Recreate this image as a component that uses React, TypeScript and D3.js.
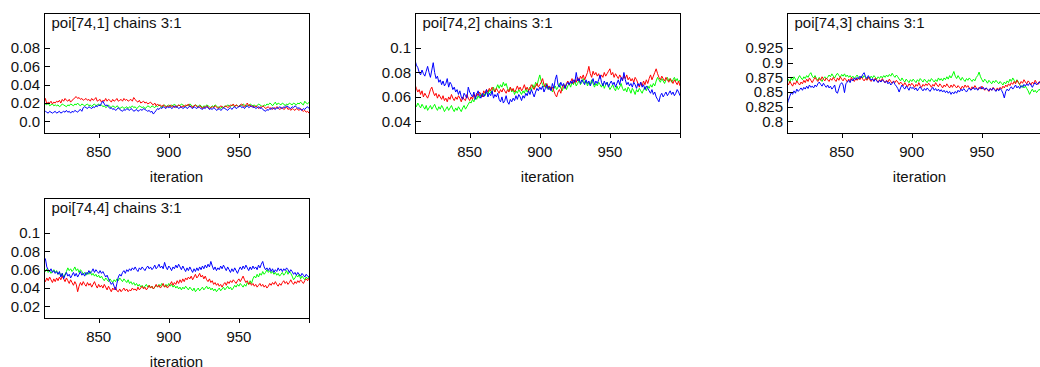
import React from "react";
import * as d3 from "d3";

// ---------- data ----------
const iterations = d3.range(811, 1001);
const xTickValues = [850, 900, 950, 1000];
const xTickLabels = ["850", "900", "950", ""];

const p1Title = "poi[74,1] chains 3:1";
const p1TickValues = [0, 0.02, 0.04, 0.06, 0.08];
const p1TickLabels = ["0.0", "0.02", "0.04", "0.06", "0.08"];
const p1Blue = [
  .012, .011, .010, .009, .011, .010, .009, .010, .011, .009,
  .010, .011, .009, .010, .011, .010, .012, .010, .011, .009,
  .011, .010, .012, .011, .010, .012, .013, .011, .015, .016,
  .015, .014, .016, .015, .014, .016, .015, .017, .016, .018,
  .017, .020, .022, .019, .017, .018, .016, .014, .015, .013,
  .014, .012, .013, .015, .013, .012, .011, .013, .012, .014,
  .013, .012, .014, .013, .011, .012, .013, .011, .012, .013,
  .012, .014, .013, .012, .011, .012, .010, .011, .008, .010,
  .012, .014, .013, .015, .014, .016, .015, .014, .016, .015,
  .016, .014, .015, .017, .015, .016, .014, .015, .016, .014,
  .015, .016, .014, .015, .017, .015, .014, .016, .015, .014,
  .016, .015, .014, .013, .015, .014, .016, .015, .013, .014,
  .013, .015, .014, .012, .013, .014, .012, .013, .015, .014,
  .013, .012, .014, .015, .013, .015, .016, .014, .015, .016,
  .017, .015, .016, .014, .016, .017, .015, .016, .017, .015,
  .016, .014, .015, .016, .014, .015, .013, .012, .011, .013,
  .012, .014, .013, .015, .014, .013, .015, .014, .016, .015,
  .014, .016, .015, .017, .016, .015, .014, .016, .015, .017,
  .016, .014, .015, .013, .012, .014, .013, .015, .016, .014,
];
const p1Red = [
  .020, .025, .019, .021, .020, .022, .019, .021, .020, .022,
  .021, .023, .020, .024, .022, .025, .023, .022, .024, .021,
  .023, .024, .026, .027, .025, .026, .024, .025, .023, .024,
  .025, .023, .024, .022, .025, .023, .024, .026, .022, .023,
  .024, .021, .023, .022, .025, .022, .024, .023, .021, .024,
  .022, .023, .025, .022, .023, .024, .022, .025, .023, .024,
  .022, .023, .024, .022, .026, .024, .022, .021, .023, .020,
  .021, .022, .020, .021, .019, .020, .021, .019, .018, .020,
  .017, .019, .017, .018, .016, .018, .017, .015, .017, .016,
  .018, .016, .017, .015, .017, .016, .018, .017, .015, .017,
  .016, .018, .017, .019, .016, .017, .015, .017, .018, .016,
  .015, .017, .016, .014, .016, .015, .017, .016, .014, .015,
  .016, .015, .017, .016, .014, .015, .017, .016, .015, .016,
  .017, .015, .016, .018, .017, .019, .016, .018, .017, .016,
  .018, .019, .017, .016, .018, .020, .017, .018, .016, .017,
  .015, .017, .016, .014, .016, .015, .017, .016, .014, .015,
  .016, .014, .015, .013, .015, .014, .016, .015, .013, .014,
  .015, .013, .014, .016, .013, .014, .012, .014, .013, .012,
  .014, .013, .012, .014, .012, .011, .012, .010, .011, .009,
];
const p1Green = [
  .020, .019, .018, .020, .017, .018, .019, .017, .018, .017,
  .018, .016, .017, .019, .018, .017, .016, .018, .017, .019,
  .018, .017, .019, .018, .020, .018, .017, .019, .018, .017,
  .018, .019, .017, .018, .016, .018, .019, .017, .018, .019,
  .017, .018, .016, .017, .015, .016, .018, .016, .015, .017,
  .016, .015, .017, .016, .014, .015, .016, .014, .015, .016,
  .014, .016, .015, .017, .015, .016, .014, .015, .017, .016,
  .015, .016, .014, .015, .017, .016, .015, .017, .016, .015,
  .017, .016, .018, .017, .015, .017, .018, .016, .017, .018,
  .016, .018, .017, .019, .017, .016, .018, .017, .019, .018,
  .017, .016, .018, .017, .019, .018, .016, .017, .018, .017,
  .016, .018, .017, .015, .017, .016, .018, .017, .016, .015,
  .017, .016, .018, .017, .015, .016, .014, .016, .015, .017,
  .016, .018, .017, .016, .018, .017, .016, .018, .017, .016,
  .018, .017, .019, .018, .016, .018, .017, .019, .018, .017,
  .018, .016, .017, .019, .018, .017, .016, .018, .017, .019,
  .018, .020, .019, .017, .019, .021, .018, .020, .019, .018,
  .020, .019, .017, .019, .018, .020, .019, .018, .020, .019,
  .018, .020, .019, .021, .019, .018, .022, .020, .019, .021,
];

const p2Title = "poi[74,2] chains 3:1";
const p2TickValues = [0.04, 0.06, 0.08, 0.1];
const p2TickLabels = ["0.04", "0.06", "0.08", "0.1"];
const p2Blue = [
  .090, .086, .084, .080, .078, .082, .079, .077, .081, .085,
  .080, .076, .082, .088, .080, .075, .077, .072, .074, .070,
  .073, .069, .071, .075, .068, .072, .070, .066, .068, .064,
  .066, .062, .065, .060, .058, .063, .061, .059, .068, .064,
  .062, .060, .064, .058, .062, .065, .061, .059, .063, .060,
  .062, .066, .060, .063, .061, .065, .059, .062, .060, .063,
  .058, .056, .060, .055, .057, .061, .056, .054, .058, .056,
  .059, .057, .061, .058, .062, .060, .057, .061, .059, .063,
  .061, .065, .062, .066, .063, .060, .064, .067, .065, .068,
  .066, .069, .064, .067, .070, .066, .068, .065, .071, .067,
  .074, .078, .070, .068, .072, .069, .071, .067, .070, .072,
  .070, .073, .071, .074, .072, .080, .073, .075, .071, .074,
  .072, .070, .074, .071, .073, .069, .072, .075, .070, .073,
  .071, .074, .078, .072, .069, .073, .070, .072, .068, .071,
  .073, .070, .072, .068, .071, .074, .070, .076, .073, .080,
  .074, .070, .072, .069, .071, .068, .072, .070, .067, .071,
  .069, .072, .068, .070, .066, .069, .067, .065, .063, .066,
  .062, .064, .060, .058, .056, .061, .063, .060, .062, .064,
  .061, .063, .065, .062, .064, .061, .063, .066, .064, .061,
];
const p2Red = [
  .070, .067, .064, .066, .062, .065, .060, .063, .061, .059,
  .062, .066, .068, .064, .061, .063, .059, .062, .060, .058,
  .061, .057, .059, .056, .060, .058, .062, .059, .057, .060,
  .058, .061, .059, .056, .060, .058, .057, .062, .059, .057,
  .060, .058, .062, .060, .063, .061, .064, .062, .060, .065,
  .063, .066, .064, .067, .065, .068, .066, .064, .067, .065,
  .063, .066, .064, .067, .065, .063, .066, .064, .068, .065,
  .067, .064, .066, .069, .066, .068, .065, .067, .070, .066,
  .068, .065, .067, .070, .068, .066, .069, .071, .068, .070,
  .072, .075, .070, .068, .071, .067, .069, .066, .068, .065,
  .062, .060, .064, .066, .063, .068, .070, .067, .071, .073,
  .070, .072, .075, .071, .074, .072, .076, .073, .077, .075,
  .078, .074, .077, .080, .085, .079, .076, .081, .078, .080,
  .077, .079, .075, .078, .076, .080, .077, .079, .081, .083,
  .078, .080, .076, .079, .077, .075, .078, .076, .074, .077,
  .075, .078, .074, .076, .073, .075, .072, .076, .074, .071,
  .068, .072, .069, .073, .070, .074, .071, .075, .078, .074,
  .077, .080, .083, .079, .076, .074, .077, .075, .073, .076,
  .074, .072, .075, .073, .071, .074, .072, .070, .073, .069,
];
const p2Green = [
  .054, .052, .055, .053, .051, .054, .052, .050, .053, .049,
  .051, .053, .050, .052, .054, .051, .049, .052, .050, .053,
  .051, .048, .050, .052, .049, .051, .053, .050, .048, .051,
  .049, .052, .050, .048, .051, .053, .050, .052, .054, .056,
  .055, .058, .056, .060, .058, .061, .059, .062, .060, .063,
  .061, .064, .062, .066, .063, .065, .068, .064, .067, .070,
  .067, .070, .068, .072, .069, .071, .067, .065, .068, .064,
  .066, .062, .065, .063, .066, .064, .062, .065, .063, .067,
  .064, .066, .068, .065, .070, .067, .072, .069, .074, .078,
  .073, .070, .068, .071, .067, .069, .066, .068, .064, .067,
  .069, .066, .068, .071, .067, .065, .068, .070, .066, .069,
  .071, .068, .072, .070, .073, .069, .071, .074, .070, .072,
  .075, .071, .073, .069, .072, .070, .074, .071, .068, .071,
  .069, .072, .070, .068, .071, .067, .070, .072, .069, .066,
  .068, .070, .067, .065, .069, .066, .068, .071, .067, .065,
  .067, .064, .068, .066, .063, .067, .065, .062, .066, .064,
  .067, .065, .063, .066, .068, .065, .069, .067, .070, .068,
  .071, .069, .073, .076, .074, .072, .075, .073, .071, .074,
  .076, .073, .075, .072, .074, .076, .073, .075, .072, .074,
];

const p3Title = "poi[74,3] chains 3:1";
const p3TickValues = [0.8, 0.825, 0.85, 0.875, 0.9, 0.925];
const p3TickLabels = ["0.8", "0.825", "0.85", "0.875", "0.9", "0.925"];
const p3Blue = [
  .828, .836, .843, .849, .846, .852, .848, .855, .851, .854,
  .857, .853, .858, .855, .860, .856, .862, .858, .860, .857,
  .862, .859, .864, .867, .863, .860, .865, .861, .858, .862,
  .857, .860, .855, .858, .862, .850, .848, .856, .863, .866,
  .862, .849, .864, .867, .870, .866, .872, .869, .874, .871,
  .875, .872, .877, .874, .880, .883, .876, .873, .878, .874,
  .870, .873, .868, .872, .869, .866, .870, .867, .871, .868,
  .866, .869, .864, .867, .862, .865, .868, .863, .860, .856,
  .850, .857, .862, .858, .855, .860, .857, .853, .859, .856,
  .858, .854, .857, .852, .856, .859, .855, .852, .856, .853,
  .857, .854, .851, .855, .858, .853, .856, .852, .855, .851,
  .854, .850, .853, .849, .852, .848, .851, .846, .850, .847,
  .851, .848, .853, .850, .855, .852, .856, .853, .850, .854,
  .857, .853, .855, .858, .854, .857, .853, .856, .859, .855,
  .858, .854, .857, .855, .852, .856, .853, .857, .854, .851,
  .855, .852, .856, .853, .848, .840, .851, .855, .852, .856,
  .859, .855, .858, .862, .857, .860, .856, .861, .858, .863,
  .860, .864, .861, .865, .862, .858, .863, .866, .862, .865,
  .867, .863, .866, .862, .865, .868, .864, .867, .863, .866,
];
const p3Red = [
  .866, .862, .868, .864, .860, .866, .863, .869, .865, .862,
  .867, .864, .870, .866, .872, .868, .874, .870, .866, .871,
  .875, .871, .868, .873, .870, .876, .872, .869, .874, .871,
  .868, .873, .870, .875, .871, .868, .874, .870, .876, .872,
  .869, .874, .871, .867, .872, .869, .875, .871, .868, .873,
  .870, .874, .871, .876, .872, .869, .873, .870, .875, .871,
  .868, .872, .869, .874, .870, .867, .871, .868, .873, .869,
  .866, .870, .867, .872, .868, .865, .869, .866, .870, .867,
  .863, .867, .864, .861, .866, .862, .859, .864, .861, .865,
  .862, .858, .863, .860, .866, .861, .858, .863, .860, .864,
  .861, .865, .862, .858, .863, .860, .866, .862, .859, .864,
  .861, .857, .862, .859, .864, .860, .857, .862, .858, .863,
  .860, .857, .861, .858, .855, .860, .857, .862, .858, .861,
  .857, .854, .859, .856, .861, .857, .854, .858, .855, .860,
  .856, .853, .857, .854, .851, .856, .853, .858, .855, .852,
  .857, .854, .858, .855, .860, .857, .862, .859, .864, .861,
  .866, .863, .868, .864, .870, .866, .863, .868, .865, .871,
  .867, .864, .869, .866, .862, .867, .864, .870, .866, .863,
  .868, .865, .870, .866, .863, .868, .865, .869, .866, .864,
];
const p3Green = [
  .868, .872, .866, .874, .870, .876, .872, .868, .874, .878,
  .874, .871, .876, .873, .878, .875, .880, .883, .877, .874,
  .878, .873, .870, .875, .871, .868, .873, .876, .872, .875,
  .879, .876, .881, .877, .874, .879, .882, .878, .875, .880,
  .877, .881, .876, .879, .875, .878, .874, .877, .873, .876,
  .879, .875, .872, .877, .874, .878, .875, .871, .876, .873,
  .877, .874, .878, .875, .872, .876, .873, .877, .874, .878,
  .875, .879, .876, .880, .877, .882, .878, .875, .879, .876,
  .872, .869, .874, .870, .867, .872, .869, .866, .871, .868,
  .872, .869, .866, .871, .868, .873, .870, .867, .872, .869,
  .866, .871, .868, .873, .870, .867, .871, .868, .874, .870,
  .873, .869, .874, .871, .876, .872, .878, .874, .879, .885,
  .877, .873, .878, .874, .870, .875, .871, .868, .873, .870,
  .874, .871, .868, .872, .869, .875, .878, .884, .876, .871,
  .867, .872, .869, .865, .870, .867, .864, .869, .866, .870,
  .867, .864, .868, .865, .862, .867, .864, .869, .866, .872,
  .868, .874, .870, .866, .871, .867, .862, .858, .861, .857,
  .860, .856, .852, .846, .851, .855, .850, .853, .849, .852,
  .855, .851, .854, .850, .853, .851, .855, .852, .850, .853,
];

const p4Title = "poi[74,4] chains 3:1";
const p4TickValues = [0.02, 0.04, 0.06, 0.08, 0.1];
const p4TickLabels = ["0.02", "0.04", "0.06", "0.08", "0.1"];
const p4Blue = [
  .068, .072, .063, .060, .058, .061, .057, .059, .056, .058,
  .055, .058, .052, .056, .050, .054, .057, .053, .055, .051,
  .054, .057, .053, .056, .052, .055, .058, .054, .056, .053,
  .057, .055, .059, .056, .058, .061, .057, .060, .058, .056,
  .059, .056, .058, .055, .052, .054, .050, .047, .044, .046,
  .042, .038, .045, .052, .055, .053, .057, .059, .056, .060,
  .058, .061, .059, .062, .060, .063, .060, .058, .062, .060,
  .063, .061, .059, .062, .064, .061, .063, .060, .062, .065,
  .061, .063, .066, .062, .064, .061, .068, .063, .060, .064,
  .062, .059, .063, .061, .065, .062, .066, .063, .060, .064,
  .061, .058, .062, .059, .063, .060, .057, .061, .058, .062,
  .059, .063, .060, .064, .061, .065, .062, .066, .063, .069,
  .064, .060, .063, .059, .062, .060, .064, .061, .065, .062,
  .059, .063, .060, .057, .061, .058, .062, .059, .056, .060,
  .063, .060, .064, .061, .065, .062, .059, .063, .060, .064,
  .061, .063, .060, .065, .062, .066, .069, .063, .060, .062,
  .059, .062, .058, .061, .057, .060, .058, .062, .059, .061,
  .058, .061, .059, .062, .060, .057, .060, .058, .055, .057,
  .054, .057, .055, .053, .056, .054, .052, .055, .053, .052,
];
const p4Red = [
  .050, .047, .051, .048, .052, .049, .046, .050, .047, .051,
  .048, .052, .049, .053, .050, .047, .051, .048, .045, .049,
  .046, .043, .047, .044, .036, .042, .046, .043, .047, .044,
  .042, .046, .043, .045, .041, .044, .047, .043, .040, .044,
  .041, .043, .040, .044, .041, .038, .042, .039, .036, .040,
  .038, .041, .037, .036, .039, .036, .038, .040, .037, .039,
  .036, .038, .037, .040, .038, .039, .037, .041, .038, .040,
  .042, .039, .041, .038, .040, .043, .040, .042, .039, .041,
  .044, .041, .043, .040, .042, .045, .041, .043, .040, .042,
  .044, .047, .043, .046, .044, .048, .045, .049, .046, .050,
  .047, .051, .049, .052, .050, .053, .049, .052, .055, .051,
  .053, .056, .052, .054, .050, .053, .049, .047, .050, .046,
  .048, .044, .046, .043, .045, .042, .044, .041, .044, .046,
  .043, .047, .045, .048, .046, .049, .047, .045, .048, .050,
  .047, .050, .053, .049, .046, .048, .044, .046, .043, .045,
  .042, .044, .041, .043, .045, .042, .044, .041, .043, .040,
  .042, .045, .043, .046, .044, .047, .044, .042, .045, .043,
  .046, .048, .045, .047, .044, .046, .049, .046, .044, .047,
  .045, .048, .046, .049, .047, .045, .048, .050, .048, .051,
];
const p4Green = [
  .060, .058, .061, .057, .059, .056, .058, .060, .057, .059,
  .055, .057, .053, .056, .052, .055, .058, .062, .059, .061,
  .058, .060, .063, .059, .061, .057, .060, .058, .055, .057,
  .054, .057, .055, .058, .054, .056, .053, .055, .052, .054,
  .051, .053, .050, .048, .051, .049, .047, .050, .048, .046,
  .049, .047, .050, .048, .051, .049, .047, .050, .048, .046,
  .049, .045, .047, .044, .046, .043, .045, .042, .044, .041,
  .043, .040, .042, .044, .041, .043, .040, .042, .039, .041,
  .043, .041, .044, .042, .045, .043, .041, .044, .042, .045,
  .042, .044, .041, .043, .040, .042, .039, .041, .038, .041,
  .039, .042, .040, .038, .041, .039, .037, .040, .036, .038,
  .040, .037, .039, .041, .038, .040, .042, .039, .041, .038,
  .040, .037, .039, .036, .038, .040, .037, .039, .041, .038,
  .040, .042, .039, .041, .038, .040, .043, .041, .044, .042,
  .045, .043, .041, .044, .042, .046, .044, .048, .045, .050,
  .053, .051, .055, .052, .056, .054, .058, .055, .057, .060,
  .057, .059, .056, .058, .055, .057, .054, .056, .053, .055,
  .057, .054, .056, .059, .055, .058, .056, .053, .049, .051,
  .054, .052, .055, .050, .053, .051, .049, .052, .050, .053,
];

// ---------- layout / style ----------
const FONT = "'Liberation Sans', Arial, Helvetica, sans-serif";
const TEXT = "#111";
const FRAME_W = 265;
const FRAME_H = 120;
const TOP_TICK_Y = 35;
const BOTTOM_TICK_Y = 108.4;
const CHAIN_COLORS = ["#00ff00", "#ff0000", "#0000ff"]; // drawn chain 3 -> 1

const panels = [
  { title: p1Title, left: 44, top: 13, ticks: p1TickValues, labels: p1TickLabels, chains: [p1Green, p1Red, p1Blue] },
  { title: p2Title, left: 415, top: 13, ticks: p2TickValues, labels: p2TickLabels, chains: [p2Green, p2Red, p2Blue] },
  { title: p3Title, left: 787, top: 13, ticks: p3TickValues, labels: p3TickLabels, chains: [p3Green, p3Red, p3Blue] },
  { title: p4Title, left: 44, top: 198, ticks: p4TickValues, labels: p4TickLabels, chains: [p4Green, p4Red, p4Blue] },
];

function Panel({ p, idx }: { p: any; idx: number }) {
  const x = d3.scaleLinear().domain([811, 1000]).range([p.left, p.left + FRAME_W]);
  const tmin = p.ticks[0];
  const tmax = p.ticks[p.ticks.length - 1];
  const y = d3
    .scaleLinear()
    .domain([tmin, tmax])
    .range([p.top + BOTTOM_TICK_Y, p.top + TOP_TICK_Y]);
  const bottom = p.top + FRAME_H;
  const line = d3
    .line<number>()
    .x((_, i) => x(iterations[i]))
    .y((d) => y(d));
  const clipId = `clip-${idx}`;
  return (
    <g>
      <defs>
        <clipPath id={clipId}>
          <rect x={p.left} y={p.top} width={FRAME_W} height={FRAME_H} />
        </clipPath>
      </defs>
      <g clipPath={`url(#${clipId})`}>
        {p.chains.map((c: number[], i: number) => (
          <path key={i} d={line(c) || ""} fill="none" stroke={CHAIN_COLORS[i]} strokeWidth={1} />
        ))}
      </g>
      <rect
        x={p.left + 0.5}
        y={p.top + 0.5}
        width={FRAME_W}
        height={FRAME_H}
        fill="none"
        stroke="#000"
        strokeWidth={1}
        shapeRendering="crispEdges"
      />
      <text x={p.left + 7.5} y={p.top + 15} fontFamily={FONT} fontSize={15} fill={TEXT}>
        {p.title}
      </text>
      {p.ticks.map((t: number, i: number) => (
        <g key={"y" + i}>
          <line
            x1={p.left}
            x2={p.left + 6}
            y1={Math.round(y(t)) + 0.5}
            y2={Math.round(y(t)) + 0.5}
            stroke="#000"
            shapeRendering="crispEdges"
          />
          <text
            x={p.left - 4}
            y={y(t)}
            dy="0.36em"
            textAnchor="end"
            fontFamily={FONT}
            fontSize={15}
            fill={TEXT}
          >
            {p.labels[i]}
          </text>
        </g>
      ))}
      {xTickValues.map((t, i) => (
        <g key={"x" + i}>
          <line
            x1={Math.round(x(t)) + 0.5}
            x2={Math.round(x(t)) + 0.5}
            y1={bottom}
            y2={bottom + 5}
            stroke="#000"
            shapeRendering="crispEdges"
          />
          <text x={x(t)} y={bottom + 24} textAnchor="middle" fontFamily={FONT} fontSize={15} fill={TEXT}>
            {xTickLabels[i]}
          </text>
        </g>
      ))}
      <text
        x={p.left + FRAME_W / 2}
        y={bottom + 49}
        textAnchor="middle"
        fontFamily={FONT}
        fontSize={15}
        fill={TEXT}
      >
        iteration
      </text>
    </g>
  );
}

export default function App() {
  return (
    <svg
      width={1040}
      height={367}
      style={{ position: "absolute", left: 0, top: 0, background: "#fff" }}
    >
      <rect x={0} y={0} width={1040} height={367} fill="#fff" />
      {panels.map((p, i) => (
        <Panel key={i} p={p} idx={i} />
      ))}
    </svg>
  );
}
